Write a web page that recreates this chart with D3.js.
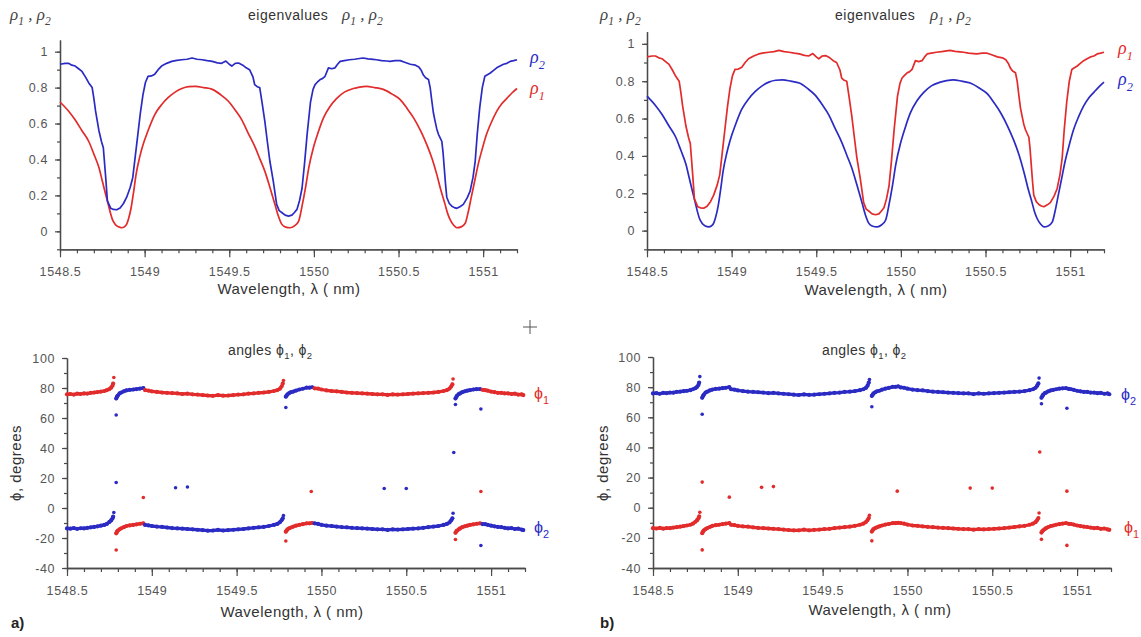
<!DOCTYPE html>
<html>
<head>
<meta charset="utf-8">
<script src="https://cdn.jsdelivr.net/npm/d3@7"></script>
<style>
  body { margin: 0; background: #fff; }
  svg { display: block; }
</style>
</head>
<body>
<svg id="fig" width="1141" height="637"></svg>
<script>
// ---------------- eigenvalue curves ----------------
// flat-topped, slightly rippled eigenvalue
const rhoFlatLambda = [1548.50,1548.53,1548.55,1548.57,1548.59,1548.61,1548.63,1548.65,1548.67,1548.69,1548.70,1548.71,1548.73,1548.745,1548.756,1548.77,1548.78,1548.80,1548.815,1548.835,1548.855,1548.875,1548.894,1548.915,1548.93,1548.945,1548.96,1548.975,1548.99,1549.005,1549.02,1549.04,1549.06,1549.08,1549.10,1549.13,1549.16,1549.19,1549.22,1549.25,1549.28,1549.31,1549.34,1549.37,1549.40,1549.43,1549.455,1549.48,1549.50,1549.515,1549.535,1549.555,1549.58,1549.60,1549.62,1549.64,1549.65,1549.665,1549.68,1549.695,1549.71,1549.725,1549.74,1549.76,1549.78,1549.795,1549.81,1549.83,1549.85,1549.87,1549.885,1549.90,1549.915,1549.93,1549.945,1549.96,1549.98,1549.995,1550.007,1550.02,1550.037,1550.05,1550.066,1550.086,1550.105,1550.125,1550.14,1550.155,1550.18,1550.21,1550.24,1550.27,1550.29,1550.32,1550.35,1550.37,1550.40,1550.43,1550.45,1550.48,1550.51,1550.54,1550.57,1550.60,1550.62,1550.635,1550.647,1550.66,1550.677,1550.687,1550.697,1550.706,1550.716,1550.726,1550.736,1550.746,1550.756,1550.763,1550.77,1550.778,1550.785,1550.80,1550.815,1550.83,1550.845,1550.865,1550.883,1550.905,1550.923,1550.94,1550.953,1550.965,1550.98,1550.995,1551.01,1551.025,1551.04,1551.06,1551.08,1551.10,1551.12,1551.14,1551.16,1551.18,1551.20];
const rhoFlat = [0.930,0.935,0.935,0.925,0.920,0.905,0.890,0.860,0.826,0.800,0.740,0.670,0.560,0.500,0.465,0.300,0.170,0.128,0.122,0.120,0.130,0.155,0.190,0.245,0.300,0.420,0.540,0.660,0.760,0.830,0.863,0.865,0.875,0.900,0.920,0.935,0.946,0.952,0.955,0.958,0.965,0.958,0.955,0.950,0.946,0.938,0.935,0.948,0.930,0.920,0.935,0.937,0.925,0.910,0.900,0.860,0.817,0.805,0.800,0.710,0.613,0.500,0.390,0.280,0.150,0.115,0.105,0.090,0.085,0.090,0.105,0.122,0.170,0.240,0.380,0.540,0.720,0.790,0.817,0.830,0.845,0.850,0.863,0.910,0.905,0.910,0.930,0.946,0.950,0.955,0.958,0.962,0.965,0.960,0.957,0.955,0.950,0.948,0.946,0.950,0.950,0.940,0.930,0.925,0.915,0.895,0.870,0.855,0.845,0.800,0.724,0.660,0.613,0.570,0.540,0.520,0.500,0.440,0.355,0.260,0.190,0.155,0.140,0.132,0.128,0.138,0.150,0.185,0.224,0.300,0.390,0.540,0.690,0.800,0.863,0.872,0.880,0.895,0.910,0.920,0.930,0.935,0.946,0.950,0.955];

// smooth, rounded eigenvalue
const rhoRoundLambda = [1548.50,1548.55,1548.59,1548.63,1548.67,1548.70,1548.73,1548.75,1548.77,1548.785,1548.80,1548.81,1548.825,1548.845,1548.865,1548.88,1548.894,1548.905,1548.92,1548.935,1548.95,1548.97,1548.99,1549.02,1549.06,1549.10,1549.14,1549.18,1549.22,1549.26,1549.30,1549.35,1549.40,1549.45,1549.495,1549.535,1549.574,1549.61,1549.65,1549.68,1549.71,1549.74,1549.77,1549.79,1549.81,1549.83,1549.86,1549.885,1549.91,1549.93,1549.95,1549.97,1549.997,1550.025,1550.056,1550.095,1550.135,1550.18,1550.233,1550.27,1550.31,1550.36,1550.41,1550.46,1550.51,1550.55,1550.59,1550.63,1550.667,1550.70,1550.726,1550.75,1550.775,1550.79,1550.805,1550.825,1550.845,1550.87,1550.894,1550.91,1550.93,1550.95,1550.97,1550.995,1551.02,1551.05,1551.08,1551.11,1551.14,1551.17,1551.20];
const rhoRound = [0.720,0.670,0.620,0.560,0.500,0.430,0.355,0.280,0.205,0.150,0.095,0.065,0.040,0.025,0.020,0.025,0.040,0.070,0.130,0.220,0.320,0.410,0.480,0.560,0.650,0.705,0.745,0.775,0.795,0.805,0.807,0.800,0.790,0.760,0.724,0.675,0.620,0.550,0.474,0.405,0.335,0.245,0.150,0.085,0.040,0.025,0.020,0.030,0.057,0.140,0.240,0.355,0.465,0.550,0.630,0.695,0.740,0.775,0.795,0.803,0.807,0.800,0.790,0.765,0.733,0.685,0.630,0.560,0.483,0.400,0.317,0.230,0.150,0.100,0.065,0.035,0.020,0.025,0.045,0.100,0.190,0.280,0.370,0.460,0.540,0.610,0.668,0.710,0.740,0.770,0.795];

// ---------------- angle bands (degrees), one list per continuous segment ----------------
const phiSegLambda = [
  [1548.50,1548.52,1548.54,1548.56,1548.58,1548.60,1548.62,1548.64,1548.66,1548.68,1548.70,1548.72,1548.735,1548.75,1548.76,1548.768,1548.772],
  [1548.79,1548.795,1548.80,1548.81,1548.82,1548.835,1548.85,1548.87,1548.89,1548.91,1548.93,1548.95],
  [1548.96,1548.98,1549.00,1549.03,1549.06,1549.09,1549.12,1549.15,1549.18,1549.21,1549.24,1549.27,1549.30,1549.33,1549.36,1549.39,1549.42,1549.45,1549.48,1549.51,1549.54,1549.57,1549.60,1549.63,1549.66,1549.69,1549.72,1549.74,1549.755,1549.765,1549.772],
  [1549.79,1549.795,1549.80,1549.81,1549.82,1549.834,1549.85,1549.87,1549.89,1549.913,1549.93,1549.945],
  [1549.96,1549.98,1550.00,1550.03,1550.06,1550.09,1550.12,1550.15,1550.18,1550.21,1550.24,1550.27,1550.30,1550.33,1550.36,1550.39,1550.42,1550.45,1550.48,1550.51,1550.54,1550.57,1550.60,1550.63,1550.66,1550.69,1550.72,1550.74,1550.755,1550.765,1550.772],
  [1550.79,1550.795,1550.80,1550.81,1550.817,1550.83,1550.845,1550.86,1550.876,1550.895,1550.915,1550.935],
  [1550.95,1550.965,1550.98,1551.00,1551.02,1551.04,1551.06,1551.08,1551.10,1551.12,1551.14,1551.16,1551.18,1551.19]
];
const phiUpperDeg = [
  [75.8,76.0,75.6,76.2,76.0,76.4,76.3,76.8,77.0,77.3,77.6,78.0,78.6,79.3,80.2,81.5,83.0],
  [73.0,74.2,75.0,76.4,77.0,77.8,78.4,78.8,79.0,79.3,79.6,80.0],
  [78.6,78.3,77.8,77.4,77.0,76.8,76.6,76.4,76.0,76.2,75.8,75.6,75.3,75.0,74.8,75.2,74.9,75.0,75.3,75.6,75.8,76.2,76.4,76.8,77.0,77.4,78.0,78.6,79.5,81.0,83.0],
  [74.2,75.0,75.8,76.6,77.2,77.6,78.3,79.0,79.5,80.2,80.2,80.5],
  [79.8,79.6,79.0,78.4,78.0,77.8,77.4,77.0,76.8,76.6,76.4,76.2,76.0,75.8,75.8,75.4,75.8,75.6,75.8,76.0,76.2,76.4,76.6,76.8,77.0,77.4,78.0,78.6,79.6,81.0,82.5],
  [73.0,74.0,75.0,76.0,76.4,77.2,77.8,78.2,78.6,79.0,79.2,79.3],
  [78.8,78.6,78.2,77.6,77.2,76.8,76.8,76.4,76.4,76.0,76.2,75.6,75.8,75.3]
];
const phiLowerDeg = [
  [-13.6,-13.8,-13.4,-13.9,-13.5,-13.6,-13.2,-12.9,-12.6,-12.2,-11.8,-11.3,-10.6,-9.3,-8.3,-7.0,-5.8],
  [-16.9,-15.8,-15.0,-14.2,-13.5,-12.8,-12.0,-11.6,-11.3,-10.9,-10.5,-10.2],
  [-11.3,-11.6,-12.0,-12.4,-12.6,-13.0,-13.4,-13.6,-13.8,-14.0,-14.2,-14.5,-14.8,-15.1,-15.0,-14.6,-15.0,-14.7,-14.5,-14.2,-14.0,-13.6,-13.2,-12.9,-12.6,-12.0,-11.3,-10.6,-9.5,-8.2,-6.9],
  [-15.8,-15.0,-14.2,-13.5,-13.0,-12.4,-11.8,-11.2,-10.8,-10.2,-10.2,-10.0],
  [-10.2,-10.6,-11.2,-11.8,-12.0,-12.4,-12.7,-12.9,-13.2,-13.4,-13.6,-13.8,-14.0,-14.2,-14.2,-14.6,-14.2,-14.4,-14.2,-14.0,-13.8,-13.6,-13.2,-12.8,-12.4,-12.0,-11.3,-10.6,-9.6,-8.2,-6.9],
  [-16.5,-15.6,-15.0,-14.2,-13.6,-12.8,-12.2,-11.8,-11.3,-10.9,-10.5,-10.2],
  [-10.7,-10.8,-11.2,-11.8,-12.2,-12.6,-12.8,-13.2,-13.6,-13.4,-14.0,-13.8,-14.4,-14.7]
];
// which angle the upper band belongs to, per segment
const upperSeriesA = ["phi1","phi2","phi1","phi2","phi1","phi2","phi1"];
const upperSeriesB = ["phi2","phi2","phi2","phi2","phi2","phi2","phi2"];

// isolated points near the resonances
const outlierLambda = [1548.776,1548.79,1548.79,1548.776,1548.79,1548.95,1549.14,1549.21,1549.776,1549.79,1549.776,1549.79,1549.94,1550.37,1550.50,1550.776,1550.79,1550.78,1550.776,1550.79,1550.94,1550.94,1550.94];
const outlierDeg    = [87,62,17,-3,-28,7,13.5,14,85,67,-5,-22,11,13,13,86,69,37,-3.5,-21,66,11,-25];
const outlierSeriesA = ["phi1","phi2","phi2","phi2","phi1","phi1","phi2","phi2","phi1","phi2","phi2","phi1","phi1","phi2","phi2","phi1","phi2","phi2","phi2","phi1","phi2","phi1","phi2"];
const outlierSeriesB = ["phi2","phi2","phi1","phi1","phi1","phi1","phi1","phi1","phi2","phi2","phi1","phi1","phi1","phi1","phi1","phi2","phi2","phi1","phi1","phi1","phi2","phi1","phi1"];

// ---------------- axes ----------------
const lambdaDomain = [1548.5, 1551.2];
const lambdaTicks = [1548.5, 1549, 1549.5, 1550, 1550.5, 1551];
const lambdaMinor = d3.range(15485, 15513).map(d => d / 10);
const rhoDomain = [-0.1, 1.065];
const rhoTicks = [0, 0.2, 0.4, 0.6, 0.8, 1];
const rhoMinor = d3.range(-1, 11).map(d => d / 10);
const phiDomain = [-40, 100];
const phiTicks = [-40, -20, 0, 20, 40, 60, 80, 100];
const phiMinor = d3.range(-40, 101, 10);

const RED = "#e22b2b";
const BLUE = "#2b2bc4";
const SANS = "'Liberation Sans', Arial, sans-serif";
const SERIF = "'Liberation Serif', 'Times New Roman', serif";

const svg = d3.select("#fig");

function scales(box, yDomain) {
  return {
    x: d3.scaleLinear().domain(lambdaDomain).range([box.x0, box.x1]),
    y: d3.scaleLinear().domain(yDomain).range([box.y0, box.y1])
  };
}

function styleAxis(g) {
  g.select(".domain").attr("stroke", "#4a4a4a").attr("stroke-width", 1.3);
  g.selectAll(".tick line").attr("stroke", "#4a4a4a").attr("stroke-width", 1.2);
  g.selectAll(".tick text")
    .attr("fill", "#555").attr("font-family", SANS)
    .attr("font-size", 12.5).attr("letter-spacing", "0.6px");
}

function drawAxes(s, yTicks, yMinor, yFmt) {
  const xAxisY = s.y.range()[0];
  const yAxisX = s.x.range()[0];
  const g = svg.append("g");
  g.append("g").attr("transform", `translate(0,${xAxisY})`)
    .call(d3.axisBottom(s.x).tickValues(lambdaMinor).tickSize(4).tickSizeOuter(0).tickFormat(""))
    .call(styleAxis);
  g.append("g").attr("transform", `translate(0,${xAxisY})`)
    .call(d3.axisBottom(s.x).tickValues(lambdaTicks).tickSize(8).tickSizeOuter(0).tickPadding(10).tickFormat(d => String(d)))
    .call(styleAxis);
  g.append("g").attr("transform", `translate(${yAxisX},0)`)
    .call(d3.axisLeft(s.y).tickValues(yMinor).tickSize(3).tickSizeOuter(0).tickFormat(""))
    .call(styleAxis);
  g.append("g").attr("transform", `translate(${yAxisX},0)`)
    .call(d3.axisLeft(s.y).tickValues(yTicks).tickSize(5).tickSizeOuter(0).tickPadding(7).tickFormat(yFmt))
    .call(styleAxis);
}

// text with subscripts: segs = [[text, isSub], ...]
function subText(x, y, segs, f) {
  const t = svg.append("text")
    .attr("x", x).attr("y", y)
    .attr("font-family", f.family).attr("font-size", f.size)
    .attr("font-style", f.style || "normal")
    .attr("fill", f.fill || "#333")
    .attr("letter-spacing", f.ls || "0px")
    .attr("text-anchor", f.anchor || "start");
  let down = false;
  segs.forEach(([txt, sub]) => {
    const sp = t.append("tspan").text(txt);
    if (sub) {
      sp.attr("font-size", f.size * 0.68);
      if (!down) { sp.attr("dy", f.size * 0.32); down = true; }
    } else if (down) {
      sp.attr("dy", -f.size * 0.32); down = false;
    }
  });
  return t;
}

const rhoPair = [["ρ", false], ["1", true], [" , ", false], ["ρ", false], ["2", true]];

// ---------------- eigenvalue panels ----------------
function eigenPanel(box, flatColor, roundColor) {
  const s = scales(box, rhoDomain);
  drawAxes(s, rhoTicks, rhoMinor, d => String(d));
  const flatData = rhoFlatLambda.map((l, i) => [l, rhoFlat[i]]);
  const roundData = rhoRoundLambda.map((l, i) => [l, rhoRound[i]]);
  const line = d3.line().x(d => s.x(d[0])).y(d => s.y(d[1]));
  svg.append("path").datum(roundData)
    .attr("d", line.curve(d3.curveMonotoneX))
    .attr("fill", "none").attr("stroke", roundColor).attr("stroke-width", 1.7);
  svg.append("path").datum(flatData)
    .attr("d", line.curve(d3.curveLinear))
    .attr("fill", "none").attr("stroke", flatColor).attr("stroke-width", 1.7)
    .attr("stroke-linejoin", "round");
  return s;
}

eigenPanel({x0: 60, x1: 517, y0: 249.3, y1: 40}, BLUE, RED);
eigenPanel({x0: 647, x1: 1104, y0: 249.3, y1: 31.7}, RED, BLUE);

// ---------------- angle panels ----------------
function anglePanel(box, upperSeries, outlierSeries) {
  const s = scales(box, phiDomain);
  drawAxes(s, phiTicks, phiMinor, d => String(d));
  const color = k => (k === "phi1" ? RED : BLUE);
  const line = d3.line().x(d => s.x(d[0])).y(d => s.y(d[1]));
  const bands = [];
  phiSegLambda.forEach((lams, k) => {
    const up = lams.map((l, i) => [l, phiUpperDeg[k][i]]);
    const lo = lams.map((l, i) => [l, phiLowerDeg[k][i]]);
    const upKey = upperSeries[k];
    const loKey = upKey === "phi1" ? "phi2" : "phi1";
    bands.push({pts: up, c: color(upKey)}, {pts: lo, c: color(loKey)});
  });
  bands.forEach(b => {
    svg.append("path").datum(b.pts).attr("d", line)
      .attr("fill", "none").attr("stroke", b.c).attr("stroke-width", 3.3)
      .attr("stroke-linejoin", "round").attr("stroke-linecap", "round");
    svg.append("g").selectAll("circle").data(b.pts).join("circle")
      .attr("cx", d => s.x(d[0])).attr("cy", d => s.y(d[1]))
      .attr("r", 2.1).attr("fill", b.c);
  });
  svg.append("g").selectAll("circle")
    .data(outlierLambda.map((l, i) => [l, outlierDeg[i], outlierSeries[i]]))
    .join("circle")
    .attr("cx", d => s.x(d[0])).attr("cy", d => s.y(d[1]))
    .attr("r", 1.8).attr("fill", d => color(d[2]));
  return s;
}

anglePanel({x0: 67, x1: 525, y0: 568, y1: 358}, upperSeriesA, outlierSeriesA);
anglePanel({x0: 653, x1: 1111, y0: 568, y1: 357}, upperSeriesB, outlierSeriesB);

// ---------------- titles, axis labels, series labels ----------------
// eigenvalue titles
svg.append("text").attr("x", 248).attr("y", 20).text("eigenvalues")
  .attr("font-family", SANS).attr("font-size", 14).attr("letter-spacing", "0.5px").attr("fill", "#333");
subText(342, 20, rhoPair, {family: SERIF, size: 17, style: "italic", fill: "#444"});
svg.append("text").attr("x", 835).attr("y", 20).text("eigenvalues")
  .attr("font-family", SANS).attr("font-size", 14).attr("letter-spacing", "0.5px").attr("fill", "#333");
subText(930, 20, rhoPair, {family: SERIF, size: 17, style: "italic", fill: "#444"});

// y labels for eigenvalue panels
subText(10, 20, rhoPair, {family: SERIF, size: 17, style: "italic", fill: "#444"});
subText(600, 20, rhoPair, {family: SERIF, size: 17, style: "italic", fill: "#444"});

// wavelength labels
const wl = "Wavelength, λ ( nm)";
[[289, 294], [876, 295], [292, 617], [880, 615]].forEach(([x, y]) => {
  svg.append("text").attr("x", x).attr("y", y).attr("text-anchor", "middle").text(wl)
    .attr("font-family", SANS).attr("font-size", 15).attr("letter-spacing", "0.5px").attr("fill", "#333");
});

// eigenvalue series labels
subText(530, 63, [["ρ", false], ["2", true]], {family: SERIF, size: 18, style: "italic", fill: BLUE});
subText(530, 94, [["ρ", false], ["1", true]], {family: SERIF, size: 18, style: "italic", fill: RED});
subText(1118, 54, [["ρ", false], ["1", true]], {family: SERIF, size: 18, style: "italic", fill: RED});
subText(1118, 85, [["ρ", false], ["2", true]], {family: SERIF, size: 18, style: "italic", fill: BLUE});

// angle titles
const anglesTitle = [["angles ϕ", false], ["1", true], [", ϕ", false], ["2", true]];
subText(228, 355, anglesTitle, {family: SANS, size: 14, fill: "#333", ls: "0.4px"});
subText(822, 355, anglesTitle, {family: SANS, size: 14, fill: "#333", ls: "0.4px"});

// angle y labels
svg.append("text").attr("x", 0).attr("y", 0).text("ϕ, degrees")
  .attr("transform", "translate(21,463) rotate(-90)").attr("text-anchor", "middle")
  .attr("font-family", SANS).attr("font-size", 15).attr("letter-spacing", "0.5px").attr("fill", "#333");
svg.append("text").attr("x", 0).attr("y", 0).text("ϕ, degrees")
  .attr("transform", "translate(608,463) rotate(-90)").attr("text-anchor", "middle")
  .attr("font-family", SANS).attr("font-size", 15).attr("letter-spacing", "0.5px").attr("fill", "#333");

// angle series labels
subText(534, 399, [["ϕ", false], ["1", true]], {family: SANS, size: 16, fill: RED});
subText(534, 533, [["ϕ", false], ["2", true]], {family: SANS, size: 16, fill: BLUE});
subText(1121, 400, [["ϕ", false], ["2", true]], {family: SANS, size: 16, fill: BLUE});
subText(1124, 533, [["ϕ", false], ["1", true]], {family: SANS, size: 16, fill: RED});

// panel letters
svg.append("text").attr("x", 11).attr("y", 628).text("a)")
  .attr("font-family", SANS).attr("font-size", 15).attr("font-weight", "bold").attr("fill", "#222");
svg.append("text").attr("x", 600).attr("y", 628).text("b)")
  .attr("font-family", SANS).attr("font-size", 15).attr("font-weight", "bold").attr("fill", "#222");

// small cross marker
svg.append("path").attr("d", "M523,327H537M530,320V334")
  .attr("stroke", "#555").attr("stroke-width", 1).attr("fill", "none");
</script>
</body>
</html>
